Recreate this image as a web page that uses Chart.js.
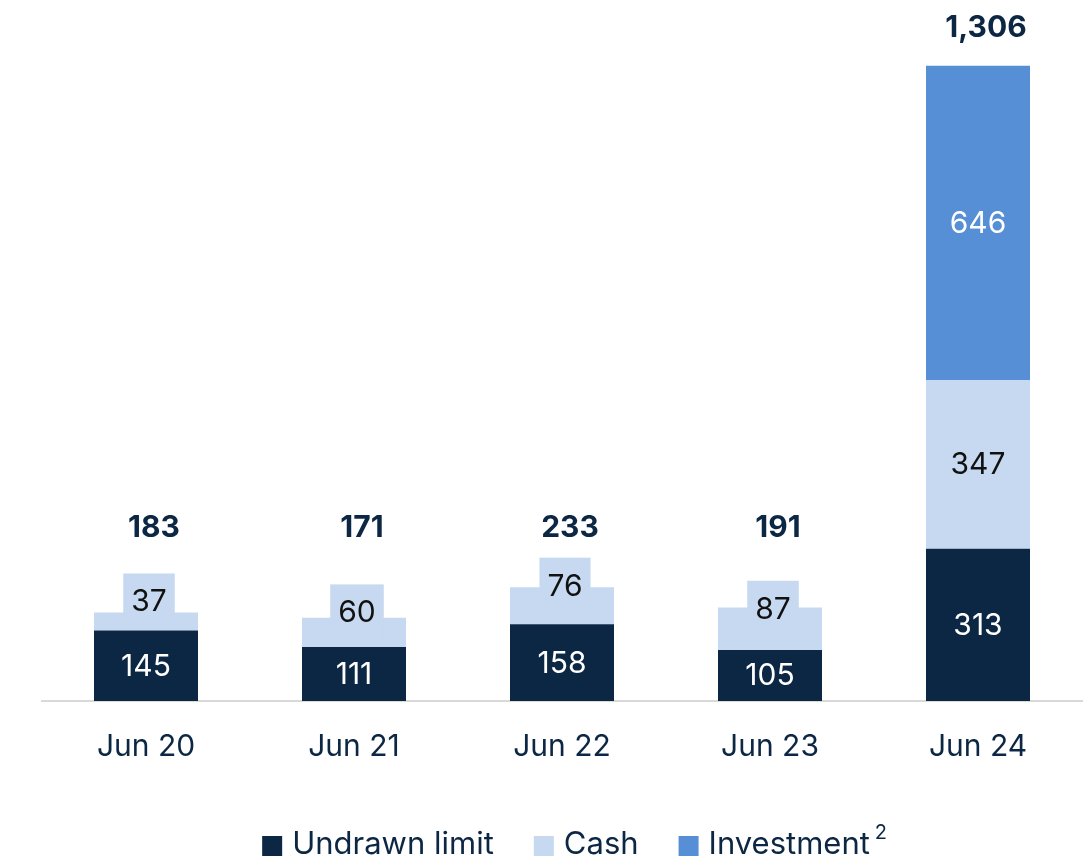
<!DOCTYPE html>
<html>
<head>
<meta charset="utf-8">
<script src="https://cdn.jsdelivr.net/npm/chart.js@4"></script>
<style>
  html, body { margin: 0; padding: 0; background: #fff; }
  #wrap { width: 1091px; height: 858px; }
</style>
</head>
<body>
<div id="wrap"><canvas id="myChart" width="1091" height="858"></canvas></div>
<script>
// data
const categories = ["Jun 20", "Jun 21", "Jun 22", "Jun 23", "Jun 24"];
const undrawn = [145, 111, 158, 105, 313];
const cash = [37, 60, 76, 87, 347];
const investment = [null, null, null, null, 646];
const totals = ["183", "171", "233", "191", "1,306"];
const seriesNames = ["Undrawn limit", "Cash", "Investment"];

const NAVY = "#0c2744";
const LIGHT = "#c6d9f0";
const MID = "#568fd6";
const FONT = "Inter, 'Noto Sans', sans-serif";

// value labels inside bars + totals on top
const labelsPlugin = {
  id: "barLabels",
  afterDatasetsDraw(chart) {
    const ctx = chart.ctx;
    const base = chart.scales.y.getPixelForValue(0);
    ctx.save();
    ctx.textAlign = "center";
    ctx.textBaseline = "middle";
    chart.data.datasets.forEach((ds, di) => {
      const meta = chart.getDatasetMeta(di);
      meta.data.forEach((bar, i) => {
        const v = ds.data[i];
        if (v == null) return;
        const top = Math.min(bar.y, bar.base);
        const h = Math.abs(bar.base - bar.y);
        let y = top + h / 2;
        let x = bar.x;
        ctx.font = "400 30px " + FONT;
        if (di === 1 && h < 60) {
          // small cash segment: label sits in a box sticking out above
          y = y - 20;
          x = x + 3;
          const w = ctx.measureText(String(v)).width + 16;
          ctx.fillStyle = ds.backgroundColor;
          ctx.fillRect(x - w / 2, y - 28, w, 56);
        }
        ctx.fillStyle = di === 1 ? "#111111" : "#ffffff";
        ctx.fillText(String(v), x, y + 1);
      });
    });
    // totals
    const first = chart.getDatasetMeta(0).data;
    ctx.font = "700 30px " + FONT;
    ctx.fillStyle = NAVY;
    categories.forEach((c, i) => {
      let top = base;
      chart.data.datasets.forEach((ds, di) => {
        const el = chart.getDatasetMeta(di).data[i];
        if (ds.data[i] != null) top = Math.min(top, el.y);
      });
      const y = Math.min(top - 38, base - 173);
      ctx.fillText(totals[i], first[i].x + 8, y);
    });
    ctx.restore();
  },
  afterDraw(chart) {
    // legend row at the bottom
    const ctx = chart.ctx;
    const colors = chart.data.datasets.map((d) => d.backgroundColor);
    ctx.save();
    ctx.font = "400 31px " + FONT;
    ctx.textBaseline = "middle";
    const box = 20, gap = 10, itemGap = 40;
    const widths = seriesNames.map((n) => ctx.measureText(n).width);
    const supW = 16;
    let total = widths.reduce((a, b) => a + b, 0) + seriesNames.length * (box + gap) + itemGap * (seriesNames.length - 1) + supW;
    let x = (chart.chartArea.left + chart.chartArea.right) / 2 - total / 2 + 12;
    const y = 845;
    seriesNames.forEach((n, i) => {
      ctx.fillStyle = colors[i];
      ctx.fillRect(x, y - box / 2 + 1, box, box);
      x += box + gap;
      ctx.fillStyle = NAVY;
      ctx.fillText(n, x, y);
      x += widths[i];
      if (i === seriesNames.length - 1) {
        ctx.font = "400 20px " + FONT;
        ctx.fillText("2", x + 5, y - 12);
      }
      x += itemGap;
    });
    ctx.restore();
  },
};

const config = {
  type: "bar",
  data: {
    labels: categories,
    datasets: [
      { label: seriesNames[0], data: undrawn, backgroundColor: NAVY },
      { label: seriesNames[1], data: cash, backgroundColor: LIGHT },
      { label: seriesNames[2], data: investment, backgroundColor: MID },
    ],
  },
  options: {
    responsive: false,
    animation: false,
    layout: { padding: { left: 42, right: 9, top: 20, bottom: 65 } },
    datasets: { bar: { categoryPercentage: 1, barPercentage: 0.5, borderWidth: 0 } },
    scales: {
      x: {
        stacked: true,
        grid: { display: false, drawTicks: false },
        border: { color: "#d9d9d9", width: 2 },
        ticks: { color: NAVY, font: { family: FONT, size: 30 }, padding: 28 },
      },
      y: { stacked: true, display: false, min: 0, max: 1400 },
    },
    plugins: {
      tooltip: { enabled: false },
      legend: { display: false },
    },
  },
  plugins: [labelsPlugin],
};

const myChart = new Chart(document.getElementById("myChart"), config);
</script>
</body>
</html>
